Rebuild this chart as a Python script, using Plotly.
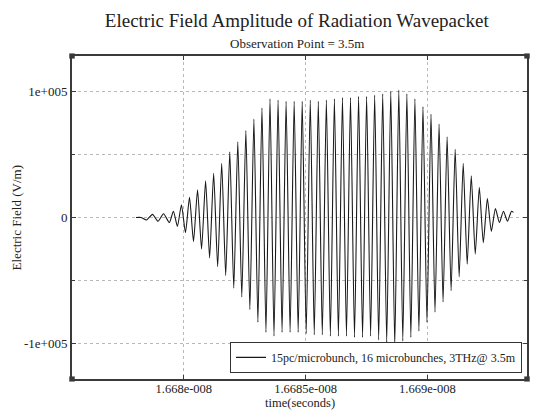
import plotly.graph_objects as go

# Extremum times (seconds) and field values (V/m)
time_s = [
    1.6678038e-8, 1.6678243e-8, 1.6678469e-8, 1.6678715e-8, 1.6678941e-8, 1.6679167e-8,
    1.6679407e-8, 1.6679573e-8, 1.6679737e-8, 1.6679904e-8, 1.6680068e-8, 1.6680234e-8,
    1.6680398e-8, 1.6680564e-8, 1.6680729e-8, 1.6680895e-8, 1.6681059e-8, 1.6681225e-8,
    1.6681390e-8,
    1.6681556e-8, 1.6681720e-8, 1.6681887e-8, 1.6682051e-8, 1.6682217e-8, 1.6682381e-8,
    1.6682548e-8, 1.6682712e-8, 1.6682878e-8, 1.6683042e-8, 1.6683209e-8, 1.6683373e-8,
    1.6683539e-8, 1.6683703e-8, 1.6683870e-8, 1.6684034e-8, 1.6684200e-8, 1.6684364e-8,
    1.6684531e-8, 1.6684695e-8, 1.6684861e-8, 1.6685025e-8, 1.6685192e-8, 1.6685356e-8,
    1.6685522e-8, 1.6685686e-8, 1.6685853e-8, 1.6686017e-8, 1.6686183e-8, 1.6686347e-8,
    1.6686514e-8, 1.6686678e-8, 1.6686844e-8, 1.6687008e-8, 1.6687175e-8, 1.6687339e-8,
    1.6687505e-8, 1.6687669e-8, 1.6687836e-8, 1.6688000e-8, 1.6688166e-8, 1.6688330e-8,
    1.6688497e-8, 1.6688661e-8, 1.6688827e-8, 1.6688991e-8, 1.6689158e-8, 1.6689322e-8,
    1.6689488e-8, 1.6689652e-8, 1.6689819e-8, 1.6689983e-8, 1.6690149e-8, 1.6690313e-8,
    1.6690480e-8, 1.6690644e-8, 1.6690810e-8, 1.6690974e-8, 1.6691141e-8, 1.6691305e-8,
    1.6691471e-8, 1.6691635e-8, 1.6691802e-8, 1.6691966e-8, 1.6692132e-8, 1.6692296e-8,
    1.6692463e-8, 1.6692627e-8, 1.6692793e-8, 1.6692957e-8, 1.6693124e-8, 1.6693288e-8,
    1.6693454e-8, 1.6693534e-8,
]
field_vm = [
    0, 0, -2000, 2500, -3000, 3000,
    -4000, 5000, -7000, 10000, -12000, 16000,
    -19000, 22000, -25000, 29000, -32000, 35000,
    -39000,
    43000, -46000, 52000, -56000, 60000, -63000,
    69000, -73000, 78000, -83000, 87000, -91000,
    94000, -94000, 93000, -91000, 92000, -91000,
    92000, -91000, 92000, -92000, 93000, -93000,
    92000, -93000, 93000, -94000, 94000, -94000,
    95000, -94000, 95000, -95000, 96000, -95000,
    96000, -94000, 97000, -97000, 98000, -99000,
    100000, -102000, 101000, -98000, 98000, -95000,
    94000, -90000, 88000, -83000, 82000, -75000,
    74000, -67000, 64000, -58000, 54000, -47000,
    43000, -37000, 33000, -29000, 24000, -20000,
    15000, -11000, 7000, -4000, 5000, -3000,
    5000, 4000,
]

series_name = "15pc/microbunch, 16 microbunches, 3THz@ 3.5m"
x_tickvals = [1.668e-8, 1.6685e-8, 1.669e-8]
x_ticktext = ["1.668e-008", "1.6685e-008", "1.669e-008"]
y_tickvals = [-1e5, 0, 1e5]
y_ticktext = ["-1e+005", "0", "1e+005"]

FONT = "Liberation Serif, Times New Roman, serif"
GRID = "#b8b8b8"
FRAME = "#3a3a3a"
TXT = "#222"

fig = go.Figure()
fig.add_trace(go.Scatter(
    x=time_s, y=field_vm, mode="lines", name=series_name,
    line=dict(color="#1a1a1a", width=1.1, shape="spline", smoothing=0.6),
    showlegend=True,
))

fig.update_layout(
    width=539, height=410,
    margin=dict(l=72, r=12, t=56, b=31),
    paper_bgcolor="white", plot_bgcolor="white",
    font=dict(family=FONT, size=13, color=TXT),
    title=dict(text="Electric Field Amplitude of Radiation Wavepacket",
               x=0.494, xref="paper", xanchor="center",
               y=1 - 20 / 410, yref="container", yanchor="middle",
               font=dict(family=FONT, size=19, color=TXT)),
    showlegend=True,
    legend=dict(x=0.989, y=0.019, xanchor="right", yanchor="bottom",
                bgcolor="white", bordercolor="#333", borderwidth=1,
                font=dict(family=FONT, size=12, color=TXT),
                itemwidth=30, tracegroupgap=0),
)

fig.add_annotation(text="Observation Point = 3.5m", xref="paper", yref="paper",
                   x=0.494, y=1.04, xanchor="center", yanchor="middle",
                   showarrow=False, font=dict(family=FONT, size=13, color=TXT))
# axis titles
fig.add_annotation(text="time(seconds)", xref="paper", yref="paper",
                   x=0.5, y=-0.0755, xanchor="center", yanchor="middle", borderpad=0,
                   showarrow=False, font=dict(family=FONT, size=12.5, color=TXT))
fig.add_annotation(text="Electric Field (V/m)", xref="paper", yref="paper",
                   x=-0.121, y=0.5, xanchor="center", yanchor="middle", textangle=-90,
                   showarrow=False, font=dict(family=FONT, size=13, color=TXT))

fig.update_xaxes(
    range=[1.667541e-8, 1.669409e-8],
    tickvals=x_tickvals, ticktext=x_ticktext,
    showgrid=True, gridcolor=GRID, griddash="dot", gridwidth=1,
    minor=dict(dtick=2.5e-11, tick0=1.668e-8, showgrid=True, gridcolor=GRID,
               griddash="dot", ticks="inside", ticklen=3, tickcolor=FRAME),
    ticks="inside", ticklen=4, tickcolor=FRAME,
    showline=True, linecolor=FRAME, linewidth=2, mirror="ticks",
    zeroline=False, automargin=False, ticklabelstandoff=-3,
    tickfont=dict(family=FONT, size=12.5),
)
fig.update_yaxes(
    range=[-1.28e5, 1.28e5],
    tickvals=y_tickvals, ticktext=y_ticktext,
    showgrid=True, gridcolor=GRID, griddash="dot", gridwidth=1,
    minor=dict(dtick=5e4, tick0=0, showgrid=True, gridcolor=GRID,
               griddash="dot", ticks="inside", ticklen=3, tickcolor=FRAME),
    ticks="inside", ticklen=4, tickcolor=FRAME,
    showline=True, linecolor=FRAME, linewidth=2, mirror="ticks",
    zeroline=False, automargin=False,
    tickfont=dict(family=FONT, size=13),
)

# small square markers at the frame corners
for cx in (0, 1):
    for cy in (0, 1):
        fig.add_shape(type="rect", xref="paper", yref="paper",
                      x0=cx - 0.006, x1=cx + 0.006, y0=cy - 0.008, y1=cy + 0.008,
                      fillcolor=FRAME, line=dict(width=0))

fig.write_html("out.html")
